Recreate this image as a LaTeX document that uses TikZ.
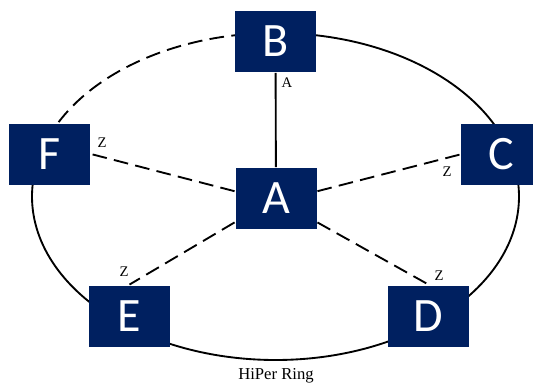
\documentclass[tikz,border=0pt]{standalone}
\usepackage{fontspec}
\setmainfont{Liberation Serif}
\newfontfamily\boxfont{Carlito}
\definecolor{ringnavy}{RGB}{0,32,96}

\tikzset{every picture/.style={line width=1.4pt}}
\tikzset{
  station/.style={fill=ringnavy, text=white, inner sep=0pt, minimum width=60.75pt, minimum height=45.75pt, font=\boxfont\fontsize{36}{36}\selectfont},
  lbl/.style={inner sep=0pt, font=\fontsize{11}{12}\selectfont},
  spoke/.style={dash pattern=on 11pt off 5.5pt},
}

\begin{document}
\begin{tikzpicture}[x=0.75pt,y=0.75pt,yscale=-1,xscale=1]
	\useasboundingbox (0,0) rectangle (533,383);
	\clip (0,0) rectangle (533,383);
	
	%Ring, dashed part [F to B]
	\draw [spoke] (275.5,196.5) ++(-160:243.5 and 163.5) arc [start angle=-160, end angle=-90, x radius=243.5, y radius=163.5];
	%Ring, solid part [B round to F]
	\draw (275.5,196.5) ++(-90:243.5 and 163.5) arc [start angle=-90, end angle=200, x radius=243.5, y radius=163.5];
	
	%Stations
	\draw (275.5,41.5) node (b) [station] {B};
	\draw (49.5,154) node (f) [station] {F};
	\draw (501.5,154.5) node (c) [station] {C};
	\draw (276,198.5) node (a) [station] {A};
	\draw (129.5,316) node (e) [station] {E};
	\draw (428.5,316) node (d) [station] {D};
	
	%Straight Lines
	\draw (b) -- (a);
	\draw [spoke] (a.170) -- (f.east);
	\draw [spoke] (a.10) -- (c.west);
	\draw [spoke] (a.210) -- (e.north);
	\draw [spoke] (a.-30) -- (d.north);
	
	% Text Node
	\draw (287,83) node (lblba) [lbl] {A};
	% Text Node
	\draw (102,143) node (lblf) [lbl] {Z};
	% Text Node
	\draw (447,172) node (lblc) [lbl] {Z};
	% Text Node
	\draw (124,272) node (lble) [lbl] {Z};
	% Text Node
	\draw (439,276) node (lbld) [lbl] {Z};
	% Text Node
	\draw (276,376) node (ringname) [inner sep=0pt, font=\fontsize{12.5}{14}\selectfont] {HiPer Ring};
\end{tikzpicture}
\end{document}
